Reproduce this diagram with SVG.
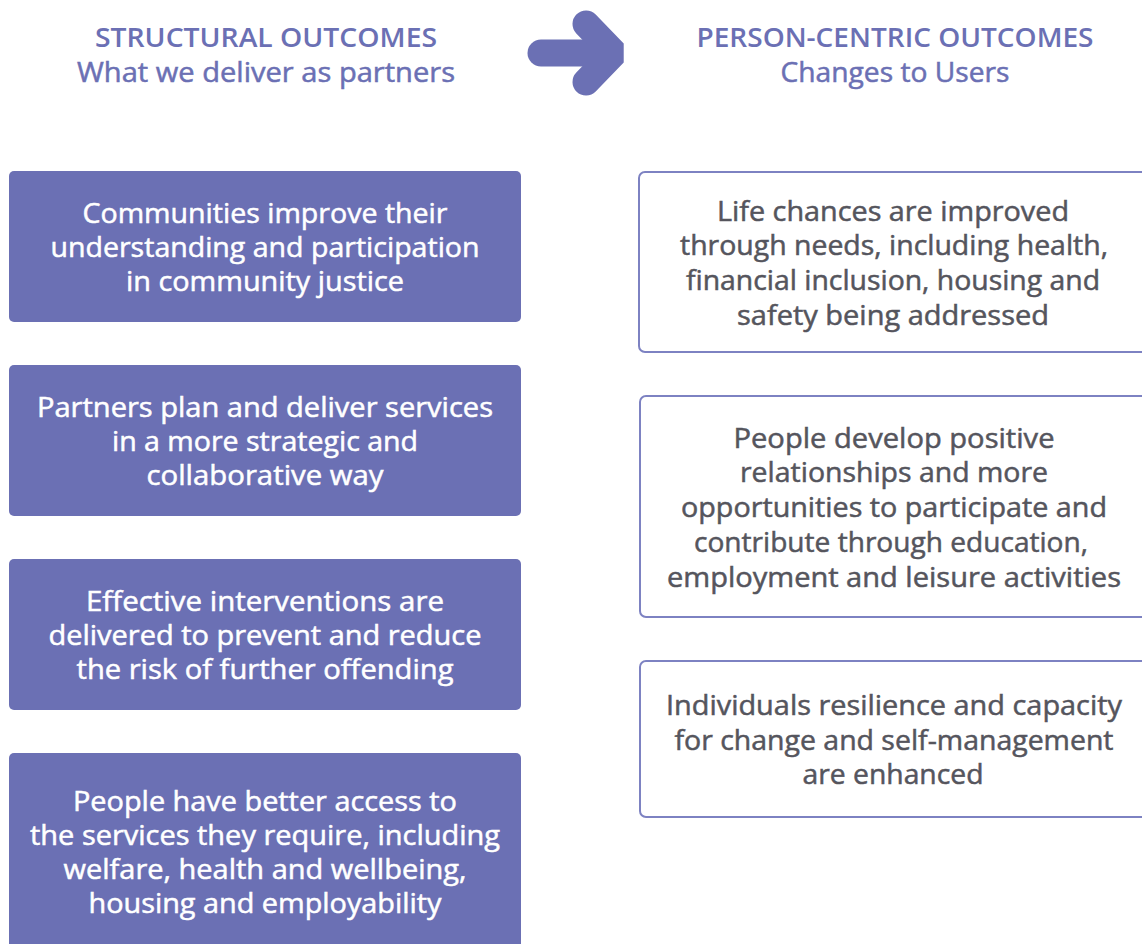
<svg xmlns="http://www.w3.org/2000/svg" width="1142" height="944" viewBox="0 0 1142 944">
<style>
.lbox{fill:#6b70b4;}
.rbox{fill:#ffffff;stroke:#7d82c2;stroke-width:2;}
.lt{font-family:"Open Sans","Noto Sans",sans-serif;font-size:27px;fill:#ffffff;stroke:#ffffff;stroke-width:0.5;text-anchor:middle;}
.rt{font-family:"Open Sans","Noto Sans",sans-serif;font-size:27px;fill:#55555d;stroke:#55555d;stroke-width:0.5;text-anchor:middle;}
.h1{font-family:"Open Sans","Noto Sans",sans-serif;font-size:27px;font-weight:600;fill:#6b70b4;text-anchor:middle;}
.h2{font-family:"Open Sans","Noto Sans",sans-serif;font-size:27px;fill:#6b70b4;stroke:#6b70b4;stroke-width:0.5;text-anchor:middle;}
</style>
<rect width="1142" height="944" fill="#ffffff"/>
<g id="header-left">
<text class="h1" x="266" y="47" textLength="342" lengthAdjust="spacingAndGlyphs">STRUCTURAL OUTCOMES</text>
<text class="h2" x="266" y="82" textLength="378" lengthAdjust="spacingAndGlyphs">What we deliver as partners</text>
</g>
<g id="header-right">
<text class="h1" x="895" y="47" textLength="397" lengthAdjust="spacingAndGlyphs">PERSON-CENTRIC OUTCOMES</text>
<text class="h2" x="895" y="82" textLength="229" lengthAdjust="spacingAndGlyphs">Changes to Users</text>
</g>
<g id="connectors">
<g id="arrow" fill="none" stroke="#6b70b4" stroke-width="27">
<line x1="541" y1="53" x2="608" y2="53" stroke-linecap="round"/>
<polyline points="586,24 614,53 586,82" stroke-linecap="round" stroke-linejoin="bevel"/>
</g>
</g>
<g id="s1">
<rect class="lbox" x="9" y="171" width="512" height="151" rx="5"/>
<text class="lt" x="265" y="223" textLength="365" lengthAdjust="spacingAndGlyphs">Communities improve their</text>
<text class="lt" x="265" y="257" textLength="429" lengthAdjust="spacingAndGlyphs">understanding and participation</text>
<text class="lt" x="265" y="291" textLength="278" lengthAdjust="spacingAndGlyphs">in community justice</text>
</g>
<g id="s2">
<rect class="lbox" x="9" y="365" width="512" height="151" rx="5"/>
<text class="lt" x="265" y="417" textLength="456" lengthAdjust="spacingAndGlyphs">Partners plan and deliver services</text>
<text class="lt" x="265" y="451" textLength="306" lengthAdjust="spacingAndGlyphs">in a more strategic and</text>
<text class="lt" x="265" y="485" textLength="237" lengthAdjust="spacingAndGlyphs">collaborative way</text>
</g>
<g id="s3">
<rect class="lbox" x="9" y="559" width="512" height="151" rx="5"/>
<text class="lt" x="265" y="611" textLength="358" lengthAdjust="spacingAndGlyphs">Effective interventions are</text>
<text class="lt" x="265" y="645" textLength="433" lengthAdjust="spacingAndGlyphs">delivered to prevent and reduce</text>
<text class="lt" x="265" y="679" textLength="377" lengthAdjust="spacingAndGlyphs">the risk of further offending</text>
</g>
<g id="s4">
<rect class="lbox" x="9" y="753" width="512" height="200" rx="5"/>
<text class="lt" x="265" y="811" textLength="384" lengthAdjust="spacingAndGlyphs">People have better access to</text>
<text class="lt" x="265" y="845" textLength="470" lengthAdjust="spacingAndGlyphs">the services they require, including</text>
<text class="lt" x="265" y="879" textLength="403" lengthAdjust="spacingAndGlyphs">welfare, health and wellbeing,</text>
<text class="lt" x="265" y="913" textLength="353" lengthAdjust="spacingAndGlyphs">housing and employability</text>
</g>
<g id="p1">
<rect class="rbox" x="639" y="172" width="520" height="180" rx="6"/>
<text class="rt" x="893" y="221" textLength="352" lengthAdjust="spacingAndGlyphs">Life chances are improved</text>
<text class="rt" x="894" y="255" textLength="428" lengthAdjust="spacingAndGlyphs">through needs, including health,</text>
<text class="rt" x="893" y="290" textLength="414" lengthAdjust="spacingAndGlyphs">financial inclusion, housing and</text>
<text class="rt" x="893" y="325" textLength="312" lengthAdjust="spacingAndGlyphs">safety being addressed</text>
</g>
<g id="p2">
<rect class="rbox" x="640" y="396" width="520" height="221" rx="6"/>
<text class="rt" x="894" y="448" textLength="321" lengthAdjust="spacingAndGlyphs">People develop positive</text>
<text class="rt" x="894" y="482" textLength="308" lengthAdjust="spacingAndGlyphs">relationships and more</text>
<text class="rt" x="894" y="517" textLength="426" lengthAdjust="spacingAndGlyphs">opportunities to participate and</text>
<text class="rt" x="891" y="552" textLength="394" lengthAdjust="spacingAndGlyphs">contribute through education,</text>
<text class="rt" x="894" y="587" textLength="454" lengthAdjust="spacingAndGlyphs">employment and leisure activities</text>
</g>
<g id="p3">
<rect class="rbox" x="640" y="661" width="520" height="156" rx="6"/>
<text class="rt" x="894" y="715" textLength="456" lengthAdjust="spacingAndGlyphs">Individuals resilience and capacity</text>
<text class="rt" x="894" y="750" textLength="439" lengthAdjust="spacingAndGlyphs">for change and self-management</text>
<text class="rt" x="893" y="784" textLength="181" lengthAdjust="spacingAndGlyphs">are enhanced</text>
</g>
</svg>
